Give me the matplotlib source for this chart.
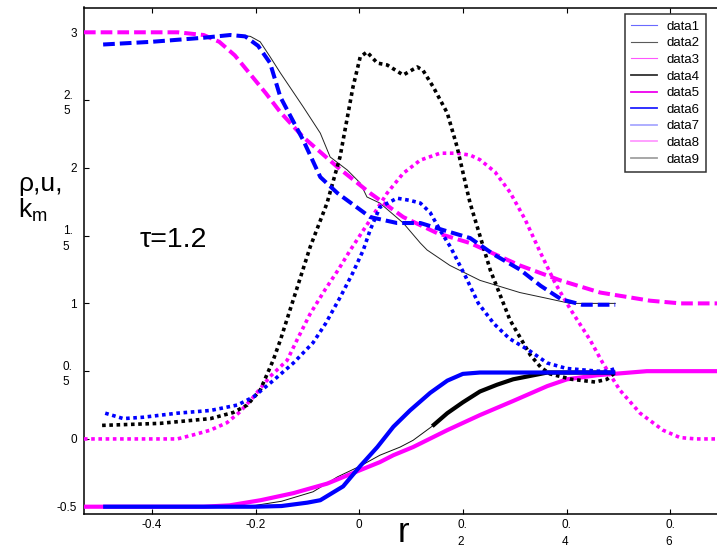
import matplotlib
matplotlib.use("Agg")
import matplotlib.pyplot as plt
from matplotlib.lines import Line2D
from matplotlib.transforms import ScaledTranslation

plt.rcParams['font.family'] = ['Liberation Sans', 'DejaVu Sans']
plt.rcParams['mathtext.fontset'] = 'custom'
plt.rcParams['mathtext.rm'] = 'Liberation Sans'
plt.rcParams['mathtext.it'] = 'Liberation Sans'

# ---- profiles at tau = 1.2 ----
# density (magenta dashed)
rho_x = [-0.531, -0.45, -0.35, -0.30, -0.27, -0.24, -0.21, -0.18, -0.152, -0.108, -0.042,
         0.021, 0.085, 0.15, 0.214, 0.31, 0.388, 0.465, 0.561, 0.62, 0.70]
rho_y = [3.0, 3.0, 3.0, 2.98, 2.93, 2.83, 2.69, 2.55, 2.41, 2.227, 2.006,
         1.814, 1.637, 1.519, 1.445, 1.28, 1.17, 1.08, 1.02, 1.0, 1.0]

# density, second run (blue dashed)
rho2_x = [-0.494, -0.40, -0.30, -0.249, -0.22, -0.195, -0.172, -0.152, -0.108, -0.075, -0.042,
          0.021, 0.073, 0.118, 0.162, 0.214, 0.26, 0.31, 0.35, 0.39, 0.43, 0.494]
rho2_y = [2.91, 2.93, 2.96, 2.98, 2.97, 2.90, 2.774, 2.522, 2.204, 1.932, 1.814,
          1.637, 1.593, 1.593, 1.541, 1.482, 1.36, 1.25, 1.13, 1.03, 0.99, 0.99]

# density, third run (thin black)
rho3_x = [-0.23, -0.21, -0.191, -0.172, -0.152, -0.108, -0.075, -0.056, -0.023, 0.002, 0.015,
          0.04, 0.085, 0.118, 0.131, 0.175, 0.233, 0.31, 0.359, 0.407, 0.494]
rho3_y = [2.98, 2.97, 2.93, 2.82, 2.70, 2.45, 2.256, 2.08, 1.984, 1.888, 1.785,
          1.74, 1.593, 1.445, 1.394, 1.28, 1.17, 1.08, 1.04, 1.0, 1.0]

# k_m (black dotted)
km1_x = [-0.496, -0.384, -0.287, -0.243, -0.216, -0.191, -0.166, -0.152, -0.0945, -0.062, -0.037,
         -0.012, 0.002, 0.015, 0.035, 0.054, 0.085, 0.112, 0.123, 0.143, 0.17, 0.189, 0.208,
         0.214, 0.253, 0.291, 0.33, 0.35, 0.368, 0.41, 0.455, 0.478, 0.494]
km1_y = [0.10, 0.115, 0.15, 0.195, 0.25, 0.36, 0.58, 0.73, 1.417, 1.74, 2.08,
         2.596, 2.818, 2.855, 2.773, 2.759, 2.685, 2.744, 2.72, 2.596, 2.404, 2.153, 1.836,
         1.74, 1.245, 0.877, 0.62, 0.53, 0.48, 0.44, 0.42, 0.44, 0.49]

# k_m (blue dotted)
km2_x = [-0.49, -0.455, -0.417, -0.351, -0.287, -0.235, -0.204, -0.166, -0.127, -0.089, -0.065,
         -0.036, -0.013, 0.008, 0.021, 0.04, 0.073, 0.098, 0.118, 0.137, 0.156, 0.176, 0.205,
         0.23, 0.26, 0.29, 0.325, 0.363, 0.40, 0.46, 0.48, 0.494]
km2_y = [0.19, 0.15, 0.16, 0.19, 0.21, 0.25, 0.31, 0.43, 0.56, 0.71, 0.85,
         1.05, 1.22, 1.394, 1.54, 1.71, 1.776, 1.76, 1.74, 1.67, 1.54, 1.417, 1.2,
         1.0, 0.85, 0.74, 0.66, 0.56, 0.52, 0.50, 0.50, 0.52]

# k_m (magenta dotted)
km3_x = [-0.531, -0.351, -0.32, -0.287, -0.255, -0.23, -0.204, -0.172, -0.139, -0.12, -0.095,
         -0.066, -0.04, -0.017, 0.021, 0.054, 0.085, 0.118, 0.156, 0.189, 0.214, 0.233, 0.262,
         0.291, 0.32, 0.349, 0.378, 0.407, 0.4455, 0.47, 0.503, 0.542, 0.586, 0.619, 0.65, 0.70]
km3_y = [0.0, 0.0, 0.03, 0.065, 0.12, 0.2, 0.31, 0.46, 0.58, 0.73, 0.92,
         1.10, 1.25, 1.394, 1.615, 1.814, 1.96, 2.057, 2.108, 2.108, 2.094, 2.06, 1.97,
         1.82, 1.62, 1.38, 1.15, 0.96, 0.73, 0.56, 0.36, 0.19, 0.065, 0.01, 0.0, 0.0]

# velocity (blue solid)
u1_x = [-0.494, -0.3, -0.2, -0.15, -0.12, -0.1, -0.075, -0.031, 0.002, 0.035, 0.066,
        0.098, 0.137, 0.17, 0.2, 0.233, 0.3, 0.494]
u1_y = [-0.5, -0.5, -0.5, -0.495, -0.48, -0.47, -0.452, -0.35, -0.2, -0.06, 0.09,
        0.21, 0.34, 0.43, 0.48, 0.49, 0.49, 0.49]

# velocity (magenta solid)
u2_x = [-0.531, -0.30, -0.25, -0.19, -0.127, -0.062, 0.002, 0.04, 0.066, 0.104, 0.17,
        0.233, 0.297, 0.363, 0.401, 0.459, 0.523, 0.555, 0.70]
u2_y = [-0.5, -0.5, -0.49, -0.452, -0.40, -0.33, -0.23, -0.171, -0.12, -0.06, 0.065,
        0.176, 0.28, 0.39, 0.44, 0.47, 0.49, 0.5, 0.5]

# velocity (thin black)
u3_x = [-0.494, -0.25, -0.2, -0.15, -0.089, -0.042, 0.002, 0.04, 0.079, 0.104, 0.141,
        0.17, 0.2, 0.233, 0.266, 0.297, 0.33, 0.363, 0.494]
u3_y = [-0.5, -0.5, -0.49, -0.46, -0.39, -0.28, -0.2, -0.12, -0.06, -0.01, 0.094,
        0.19, 0.27, 0.35, 0.40, 0.44, 0.465, 0.49, 0.49]

# velocity (thick black segment)
u4_x = [0.141, 0.17, 0.2, 0.233, 0.266, 0.297, 0.33, 0.363, 0.40, 0.494]
u4_y = [0.094, 0.19, 0.27, 0.35, 0.40, 0.44, 0.465, 0.49, 0.49, 0.49]

x_ticks = [-0.4, -0.2, 0, 0.2, 0.4, 0.6]
x_tick_labels = ['-0.4', '-0.2', '0', '0.\n2', '0.\n4', '0.\n6']
y_ticks = [-0.5, 0, 0.5, 1, 1.5, 2, 2.5, 3]
y_tick_labels = ['-0.5', '0', '0.\n5', '1', '1.\n5', '2', '2.\n5', '3']

legend_labels = ['data1', 'data2', 'data3', 'data4', 'data5', 'data6', 'data7', 'data8', 'data9']
legend_colors = ['#6a6aff', '#5a5a5a', '#ff55ff', '#303030', '#ee00ee', '#2020ff',
                 '#a8a8ff', '#ff99ff', '#a0a0a0']
legend_widths = [0.8, 0.8, 0.8, 1.3, 1.3, 1.3, 1.3, 1.3, 1.3]

W, H = 717, 551
fig = plt.figure(figsize=(W / 100, H / 100), dpi=100)
ax_left, ax_right, ax_top, ax_bottom = 83.7, 722.0, 7.5, 514.3
ax = fig.add_axes([ax_left / W, 1 - ax_bottom / H,
                   (ax_right - ax_left) / W, (ax_bottom - ax_top) / H])

dash = (0, (2.9, 1.25))
dot = (0, (1, 1))
BLUE, MAG, BLK = '#0000ff', '#ff00ff', '#000000'

ax.plot(rho3_x, rho3_y, color='#222222', lw=0.7, zorder=2)
ax.plot(u3_x, u3_y, color='#111111', lw=0.7, zorder=2)
ax.plot(rho_x, rho_y, color=MAG, lw=2.9, ls=dash, dash_capstyle='butt', zorder=3)
ax.plot(km3_x, km3_y, color=MAG, lw=2.6, ls=dot, dash_capstyle='butt', zorder=3)
ax.plot(u2_x, u2_y, color=MAG, lw=3.0, solid_capstyle='butt', zorder=3)
ax.plot(km1_x, km1_y, color=BLK, lw=2.6, ls=dot, dash_capstyle='butt', zorder=4)
ax.plot(u4_x, u4_y, color=BLK, lw=3.0, solid_capstyle='butt', zorder=4)
ax.plot(rho2_x, rho2_y, color=BLUE, lw=2.9, ls=dash, dash_capstyle='butt', zorder=5)
ax.plot(km2_x, km2_y, color=BLUE, lw=2.6, ls=dot, dash_capstyle='butt', zorder=5)
ax.plot(u1_x, u1_y, color=BLUE, lw=3.0, solid_capstyle='butt', zorder=5)

ax.set_xlim(-0.5315, 0.70)
ax.set_ylim(-0.556, 3.183)
ax.set_xticks(x_ticks)
ax.set_xticklabels(x_tick_labels, fontsize=8.5, multialignment='left', linespacing=1.55)
ax.set_yticks(y_ticks)
ax.set_yticklabels(y_tick_labels, fontsize=8.5, multialignment='left', linespacing=1.4)
ax.tick_params(direction='in', length=3.6, width=0.8, top=True, right=True)
ax.tick_params(axis='y', pad=5)
ax.tick_params(axis='x', pad=3.5)
for s in ax.spines.values():
    s.set_linewidth(1.1)

# wrapped labels sit a little further from the axis
shift = ScaledTranslation(-4 / 100, 0, fig.dpi_scale_trans)
for lbl in ax.get_yticklabels():
    if '\n' in lbl.get_text():
        lbl.set_transform(lbl.get_transform() + shift)

handles = [Line2D([], [], color=c, lw=w) for c, w in zip(legend_colors, legend_widths)]
leg = fig.legend(handles, legend_labels, loc='upper left',
                 bbox_to_anchor=(624.5 / W, 1 - 14 / H), bbox_transform=fig.transFigure,
                 fontsize=9.5, frameon=True, fancybox=False, borderaxespad=0,
                 handlelength=1.95, handletextpad=0.7, labelspacing=0.33,
                 borderpad=0.5)
leg.get_frame().set_edgecolor('black')
leg.get_frame().set_linewidth(1.1)

fig.text(18 / W, 1 - 198 / H, 'ρ,u,\n$\\mathregular{k_m}$', fontsize=19,
         ha='left', va='center', linespacing=1.0)
fig.text(140 / W, 1 - 240 / H, 'τ=1.2', fontsize=20.5, ha='left', va='center')
fig.text(403 / W, 1 - 533 / H, 'r', fontsize=25, ha='center', va='center')

fig.savefig('out.png', dpi=100)
